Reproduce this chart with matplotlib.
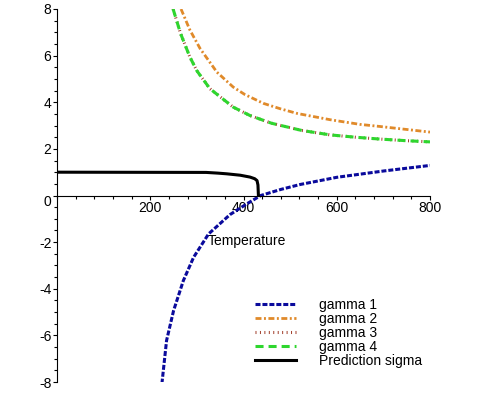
import matplotlib
matplotlib.use('Agg')
import matplotlib.pyplot as plt
from matplotlib.ticker import MultipleLocator, FixedLocator

plt.rcParams['font.family'] = ['Liberation Sans', 'DejaVu Sans']
plt.rcParams['lines.scale_dashes'] = False

# values
t_gamma1 = [225, 235, 250, 271, 293, 325, 371, 407, 437, 480, 521, 600, 700, 800]
gamma1 = [-8.07, -6.22, -4.94, -3.65, -2.65, -1.65, -0.82, -0.36, 0.0, 0.26, 0.47, 0.78, 1.05, 1.29]

t_gamma2 = [266, 285, 307, 343, 378, 403, 443, 479, 515, 586, 650, 693, 800]
gamma2 = [8.0, 7.1, 6.3, 5.29, 4.65, 4.33, 3.95, 3.72, 3.52, 3.25, 3.05, 2.96, 2.72]

t_gamma3 = [249, 265, 285, 300, 328, 378, 414, 460, 525, 586, 640, 693, 750, 800]
gamma3 = [8.0, 6.95, 5.94, 5.35, 4.58, 3.79, 3.43, 3.1, 2.79, 2.6, 2.5, 2.42, 2.35, 2.3]

t_gamma4 = [249, 265, 285, 300, 328, 378, 414, 460, 525, 586, 640, 693, 750, 800]
gamma4 = [8.0, 6.95, 5.94, 5.35, 4.58, 3.79, 3.43, 3.1, 2.79, 2.6, 2.5, 2.42, 2.35, 2.3]

t_sigma = [0, 320, 345, 364, 393, 414, 424, 429, 431, 432]
sigma = [1.0, 0.99, 0.96, 0.93, 0.87, 0.79, 0.72, 0.64, 0.45, 0.0]

x_ticks = [200, 400, 600, 800]
y_ticks = [-8, -6, -4, -2, 0, 2, 4, 6, 8]
y_tick_labels = ['-8', '-6', '-4', '-2', '', '2', '4', '6', '8']

fig = plt.figure(figsize=(4.83, 3.94), dpi=100)
ax = fig.add_axes([57 / 483, 12 / 394, 373 / 483, 373 / 394])

ax.plot(t_gamma1, gamma1, color='#0a0a9c', lw=2.2, dashes=(3.6, 1.4), label='gamma 1')
ax.plot(t_gamma2, gamma2, color='#e08a2a', lw=2.0, dashes=(4.3, 1.8, 1.4, 1.8), label='gamma 2')
ax.plot(t_gamma3, gamma3, color='#a03c28', lw=2.2, dashes=(0.7, 2.5), label='gamma 3')
ax.plot(t_gamma4, gamma4, color='#2ed62e', lw=2.2, dashes=(5.8, 3.6), label='gamma 4')
ax.plot(t_sigma, sigma, color='black', lw=2.2, label='Prediction sigma')

ax.set_xlim(0, 800)
ax.set_ylim(-8, 8)

# maple style axes crossing at the origin
ax.spines['top'].set_visible(False)
ax.spines['right'].set_visible(False)
ax.spines['bottom'].set_position(('data', 0))
ax.spines['left'].set_position(('data', 0))

ax.xaxis.set_major_locator(FixedLocator(x_ticks))
ax.xaxis.set_minor_locator(MultipleLocator(40))
ax.set_yticks(y_ticks)
ax.set_yticklabels(y_tick_labels)
ax.yaxis.set_minor_locator(MultipleLocator(0.5))
ax.tick_params(axis='both', which='major', direction='out', length=3, width=0.8, pad=1, labelsize=10)
ax.tick_params(axis='both', which='minor', direction='out', length=2.5, width=0.8)
ax.annotate('0', xy=(0, 0), xycoords='data', textcoords='offset points',
            xytext=(-4.3, -4.8), ha='right', va='center', fontsize=10)

ax.set_xlabel('Temperature', fontsize=10, va='center')
ax.xaxis.set_label_coords(0.51, 0.379)

ax.legend(loc='upper left', bbox_to_anchor=(255 / 483, 1 - 298 / 394),
          bbox_transform=fig.transFigure, frameon=False, fontsize=10,
          borderpad=0, borderaxespad=0, handlelength=2.95, handletextpad=1.65,
          labelspacing=0.0)

fig.savefig('out.png', dpi=100)
